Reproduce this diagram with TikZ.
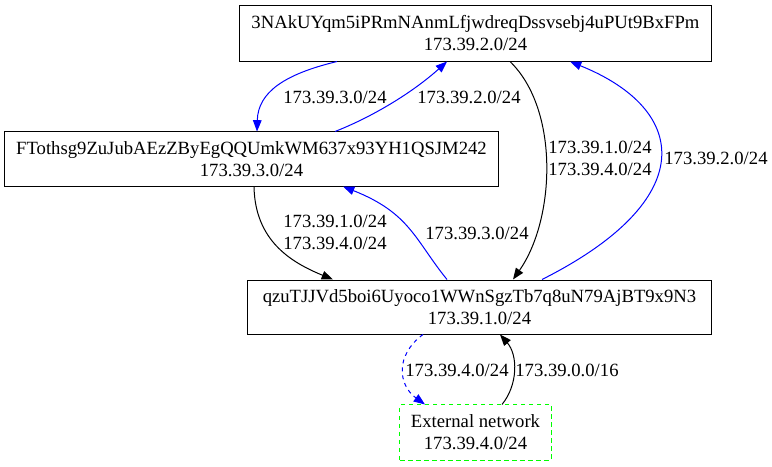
\documentclass[tikz,border=0pt]{standalone}
\usepackage{fontspec}
\setmainfont{Liberation Serif}
\usetikzlibrary{arrows.meta,calc}
\definecolor{rotaMavi}{HTML}{0000FF}
\definecolor{disYesil}{HTML}{00FF00}

\begin{document}
\begin{tikzpicture}[x=0.75pt,y=-0.75pt,
  kutu/.style={draw,line width=0.75pt,align=center,inner sep=0pt,font=\fontsize{14}{16.5}\selectfont},
  etiket/.style={align=center,inner sep=0pt,font=\fontsize{14}{16.5}\selectfont},
  ok/.style={line width=0.75pt,-{Triangle[length=8.5pt,width=6.5pt]}},
  mavi/.style={ok,rotaMavi}]
\useasboundingbox (0,0) rectangle (772,467);
\node[kutu,minimum width=353.3pt,minimum height=41.3pt] (a) at (475.5,33.5) {3NAkUYqm5iPRmNAnmLfjwdreqDssvsebj4uPUt9BxFPm\\173.39.2.0/24};
\node[kutu,minimum width=369.8pt,minimum height=40.5pt] (b) at (251.5,159) {FTothsg9ZuJubAEzZByEgQQUmkWM637x93YH1QSJM242\\173.39.3.0/24};
\node[kutu,minimum width=347.3pt,minimum height=40.5pt] (c) at (479.5,307) {qzuTJJVd5boi6Uyoco1WWnSgzTb7q8uN79AjBT9x9N3\\173.39.1.0/24};
\node[kutu,disYesil,dash pattern=on 3.5pt off 2.5pt,text=black,minimum width=113.3pt,minimum height=41.3pt] (d) at (475.5,432.5) {External network\\173.39.4.0/24};
% baglantilar
\draw[mavi] ($(a.south)+(-138.5,0)$) .. controls (285,74) and (258,92) .. ($(b.north)+(5.5,0)$);
\draw[mavi] ($(b.north)+(83.5,0)$) .. controls (372,117) and (412,93) .. ($(a.south)+(-28.5,0)$);
\draw[ok] ($(a.south)+(34.5,0)$) .. controls (560,110) and (555,220) .. ($(c.north)+(33.5,0)$);
\draw[mavi] ($(c.north)+(62.5,0)$) .. controls (700,200) and (690,110) .. ($(a.south)+(94.5,0)$);
\draw[ok] ($(b.south)+(2.5,0)$) .. controls (255,240) and (290,262) .. ($(c.north)+(-146.5,0)$);
\draw[mavi] ($(c.north)+(-32.5,0)$) .. controls (415,240) and (410,213) .. ($(b.south)+(91.5,0)$);
\draw[mavi,dashed] ($(c.south)+(-56.5,0)$) .. controls (395,355) and (398,385) .. ($(d.north)+(-50.5,0)$);
\draw[ok] ($(d.north)+(26.5,0)$) .. controls (518,385) and (518,355) .. ($(c.south)+(20.5,0)$);
% etiketler
\node[etiket] (e1) at (335,97) {173.39.3.0/24};
\node[etiket] (e2) at (469,97) {173.39.2.0/24};
\node[etiket] (e3) at (600,158) {173.39.1.0/24\\173.39.4.0/24};
\node[etiket] (e4) at (716,158) {173.39.2.0/24};
\node[etiket] (e5) at (335,232) {173.39.1.0/24\\173.39.4.0/24};
\node[etiket] (e6) at (477,233) {173.39.3.0/24};
\node[etiket] (e7) at (457,370) {173.39.4.0/24};
\node[etiket] (e8) at (567,370) {173.39.0.0/16};
\end{tikzpicture}
\end{document}
